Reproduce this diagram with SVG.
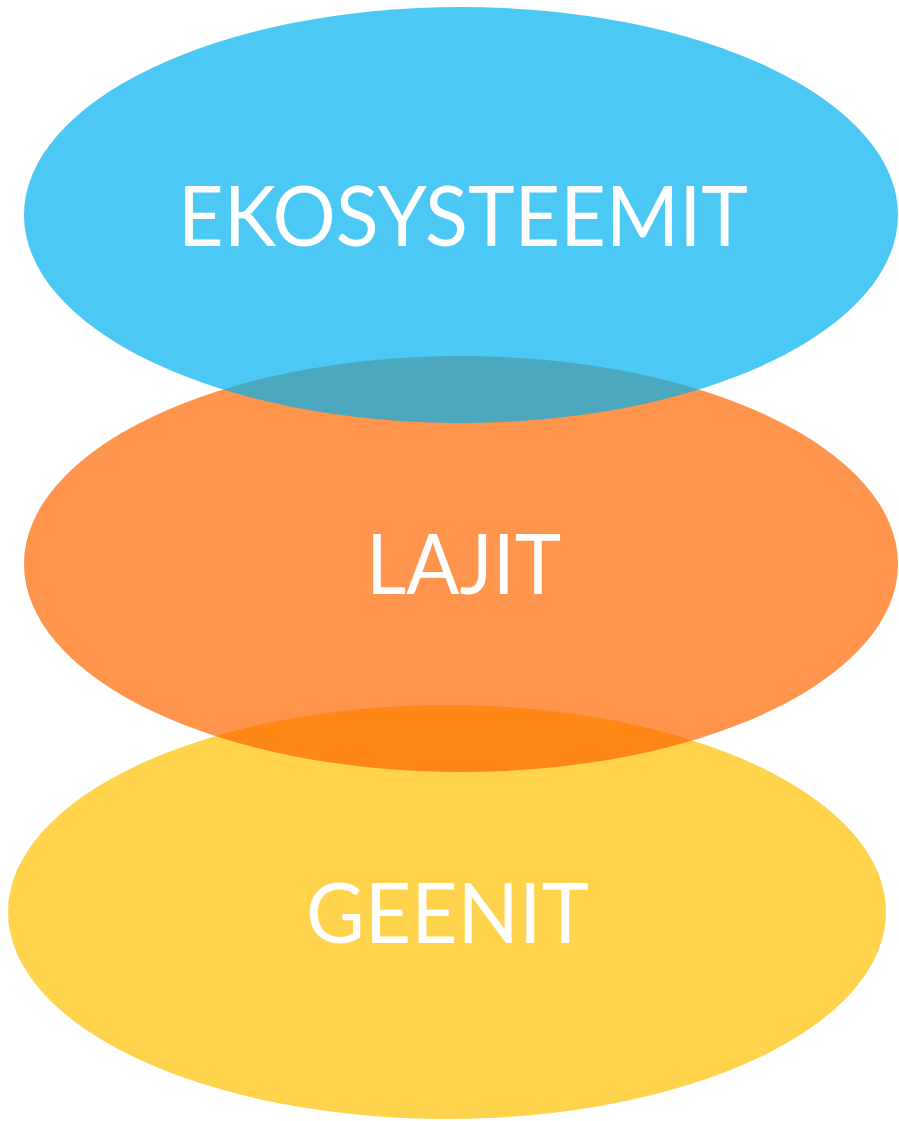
<svg xmlns="http://www.w3.org/2000/svg" width="899" height="1121" viewBox="0 0 899 1121">
  <style>
    .shape { opacity: 0.7; stroke: none; }
    .label { font-family: "Lato", "Open Sans", sans-serif; font-size: 83px; fill: #FFFFFF; }
  </style>
  <rect x="0" y="0" width="899" height="1121" fill="#FFFFFF"/>
  <g id="node-geenit">
    <ellipse class="shape" cx="447" cy="912" rx="439" ry="207" fill="#FFC000"/>
    <text class="label" x="306" y="943" textLength="283" lengthAdjust="spacingAndGlyphs">GEENIT</text>
  </g>
  <g id="node-lajit">
    <ellipse class="shape" cx="461" cy="564" rx="437" ry="208" fill="#FF6600"/>
    <text class="label" x="366" y="594" textLength="195" lengthAdjust="spacingAndGlyphs">LAJIT</text>
  </g>
  <g id="node-ekosysteemit">
    <ellipse class="shape" cx="461" cy="215" rx="437" ry="208" fill="#00B0F0"/>
    <text class="label" x="178" y="246" textLength="570" lengthAdjust="spacingAndGlyphs">EKOSYSTEEMIT</text>
  </g>
  <g id="connectors"></g>
</svg>
